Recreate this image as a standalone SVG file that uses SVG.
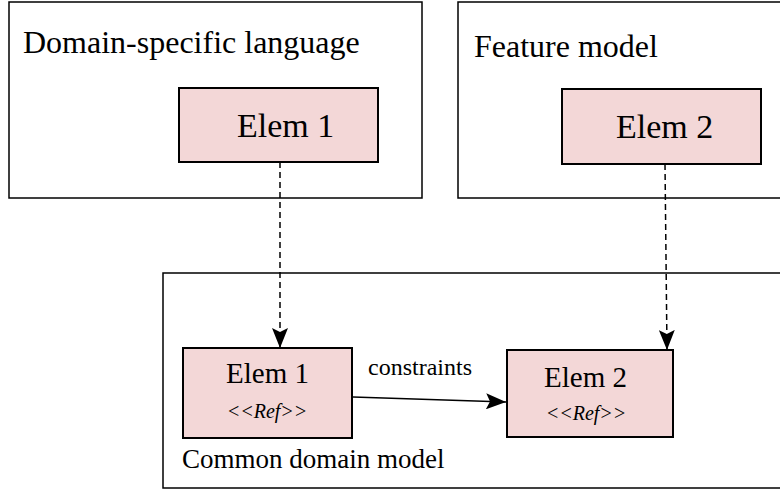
<svg xmlns="http://www.w3.org/2000/svg" width="780" height="490" viewBox="0 0 780 490">
<style>
.frame{fill:#fff;stroke:#000;stroke-width:1.5}
.elem{fill:#f3d7d7;stroke:#000;stroke-width:2}
.t{font-family:"Liberation Serif","Times New Roman",serif;fill:#000}
.ref{font-family:"Liberation Serif","Times New Roman",serif;font-style:italic;fill:#000;font-size:20px}
.dash{fill:none;stroke:#000;stroke-width:1.5;stroke-dasharray:6 4}
.solid{fill:none;stroke:#000;stroke-width:1.5}
</style>
<defs>
<marker id="ah" viewBox="0 0 20 16" refX="20" refY="8" markerWidth="20" markerHeight="16" markerUnits="userSpaceOnUse" orient="auto">
<path d="M0,0 L20,8 L0,16 L4,8 z" fill="#000"/>
</marker>
</defs>
<g id="dsl">
<rect class="frame" x="9" y="2" width="413" height="196"/>
<text class="t" x="23" y="53" font-size="32">Domain-specific language</text>
</g>
<g id="feature-model">
<rect class="frame" x="458" y="2" width="330" height="196"/>
<text class="t" x="474" y="57" font-size="32">Feature model</text>
</g>
<g id="common-domain-model">
<rect class="frame" x="163" y="273" width="625" height="215"/>
<text class="t" x="182" y="468" font-size="27">Common domain model</text>
</g>
<g id="dsl-elem1">
<rect class="elem" x="179" y="88" width="199" height="74"/>
<text class="t" x="237" y="137" font-size="34">Elem 1</text>
</g>
<g id="fm-elem2">
<rect class="elem" x="562" y="89" width="199" height="75"/>
<text class="t" x="616" y="138" font-size="34">Elem 2</text>
</g>
<g id="cdm-elem1">
<rect class="elem" x="183" y="348" width="169" height="90"/>
<text class="t" x="267.5" y="383" font-size="29" text-anchor="middle">Elem 1</text>
<text class="ref" x="267" y="418" text-anchor="middle">&lt;&lt;Ref&gt;&gt;</text>
</g>
<g id="cdm-elem2">
<rect class="elem" x="507" y="350" width="166" height="87"/>
<text class="t" x="585.5" y="387" font-size="29" text-anchor="middle">Elem 2</text>
<text class="ref" x="586" y="420" text-anchor="middle">&lt;&lt;Ref&gt;&gt;</text>
</g>
<g id="connectors">
<path class="dash" d="M280,162 L280,348" marker-end="url(#ah)"/>
<path class="dash" d="M665,164 L667,350" marker-end="url(#ah)"/>
<path class="solid" d="M353,397 L506,402" marker-end="url(#ah)"/>
<text class="t" x="368" y="375" font-size="24">constraints</text>
</g>
</svg>
